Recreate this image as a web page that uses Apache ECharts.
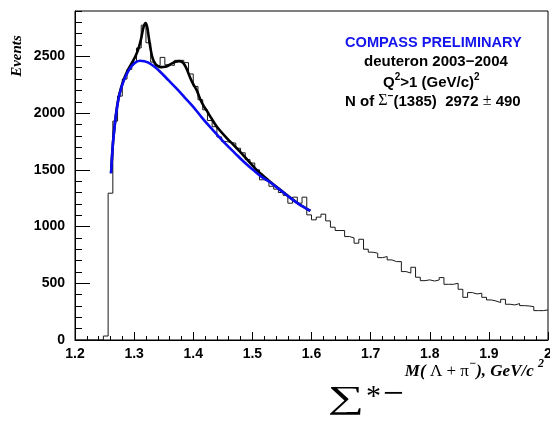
<!DOCTYPE html>
<html>
<head>
<meta charset="utf-8">
<script src="https://cdn.jsdelivr.net/npm/echarts@6/dist/echarts.min.js"></script>
<style>
  html, body { margin: 0; padding: 0; background: #fff; }
  #chart { width: 550px; height: 423px; }
</style>
</head>
<body>
<div id="chart"></div>
<script>
// Λπ invariant-mass histogram: 100 bins of 0.008 GeV/c² from 1.2 to 2.0
const binLow = 1.2;
const binWidth = 0.008;
const histCounts = [
  0, 0, 0, 0, 0, 0, 35, 1294, 1930, 2150,
  2300, 2385, 2445, 2574, 2775, 2620, 2450, 2420, 2491, 2426,
  2420, 2465, 2465, 2445, 2345, 2235, 2118, 2029, 1935, 1880,
  1790, 1750, 1740, 1735, 1690, 1650, 1590, 1560, 1500, 1412,
  1397, 1355, 1330, 1300, 1275, 1206, 1259, 1206, 1259, 1103,
  1059, 1083, 1109, 1050, 994, 965, 965, 912, 900, 853,
  888, 800, 774, 765, 726, 735, 706, 691, 691, 603,
  590, 641, 553, 523, 530, 520, 529, 550, 491, 491,
  500, 447, 376, 418, 406, 412, 376, 353, 344, 330,
  359, 315, 309, 321, 303, 300, 294, 259, 259, 265
];

// Background-only fit (blue)
const bgFitMass = [
  1.261, 1.264, 1.267, 1.2705, 1.275, 1.282, 1.289, 1.296, 1.303, 1.310,
  1.317, 1.324, 1.334, 1.344, 1.358, 1.372, 1.386, 1.400, 1.414, 1.428,
  1.442, 1.456, 1.470, 1.485, 1.500, 1.515, 1.530, 1.545, 1.561, 1.578, 1.598
];
const bgFitCounts = [
  1470, 1720, 1880, 2030, 2160, 2280, 2360, 2415, 2450, 2462,
  2458, 2445, 2410, 2365, 2290, 2215, 2135, 2055, 1965, 1880,
  1800, 1722, 1650, 1573, 1505, 1440, 1390, 1330, 1265, 1200, 1138
];

// Signal + background fit (black)
const totalFitMass = [
  1.261, 1.264, 1.267, 1.2705, 1.275, 1.282, 1.289, 1.296, 1.303, 1.308,
  1.312, 1.316, 1.3195, 1.322, 1.325, 1.328, 1.331, 1.335, 1.340, 1.346,
  1.352, 1.358, 1.364, 1.370, 1.376, 1.381, 1.386, 1.390, 1.395, 1.400,
  1.406, 1.412, 1.418, 1.423, 1.430, 1.440, 1.4566, 1.468, 1.479, 1.493,
  1.507, 1.520, 1.530, 1.545, 1.561, 1.578, 1.598
];
const totalFitCounts = [
  1470, 1725, 1885, 2035, 2165, 2290, 2375, 2440, 2510, 2580,
  2660, 2760, 2794, 2760, 2660, 2560, 2490, 2440, 2415, 2405,
  2408, 2420, 2438, 2452, 2458, 2450, 2420, 2375, 2310, 2255,
  2200, 2120, 2060, 2020, 1960, 1880, 1780, 1720, 1660, 1580,
  1500, 1440, 1395, 1333, 1267, 1201, 1139
];

const yMajorTicks = [0, 500, 1000, 1500, 2000, 2500];
const yMinorTicks = [100, 200, 300, 400, 600, 700, 800, 900, 1100, 1200, 1300, 1400,
  1600, 1700, 1800, 1900, 2100, 2200, 2300, 2400, 2600, 2700, 2800, 2900];

// Step outline: one point per bin low edge, plus the closing upper edge
const histPoints = histCounts.map((c, k) => [+(binLow + k * binWidth).toFixed(3), c]);
histPoints.push([+(binLow + histCounts.length * binWidth).toFixed(3), histCounts[histCounts.length - 1]]);

const zip = (xs, ys) => xs.map((x, i) => [x, ys[i]]);

const labelFont = { fontFamily: 'Liberation Sans', fontWeight: 'bold', fontSize: 14, color: '#000' };
const axisBlack = { color: '#000', width: 1 };

const chart = echarts.init(document.getElementById('chart'), null, { renderer: 'canvas' });
chart.setOption({
  animation: false,
  backgroundColor: '#fff',
  grid: {
    left: 75, right: 2, top: 11, bottom: 83,
    containLabel: false, outerBoundsMode: 'none',
    show: true, borderColor: '#000', borderWidth: 1, backgroundColor: 'transparent'
  },
  xAxis: {
    type: 'value', min: 1.2, max: 2.0, interval: 0.1,
    axisLine: { show: true, lineStyle: axisBlack },
    axisTick: { show: true, inside: true, length: 8, lineStyle: axisBlack },
    minorTick: { show: true, splitNumber: 5, length: 4, lineStyle: axisBlack },
    splitLine: { show: false },
    axisLabel: Object.assign({ margin: 7, formatter: v => String(Math.round(v * 10) / 10) }, labelFont)
  },
  yAxis: [
    {
      type: 'value', min: 0, max: 2900, interval: 500, position: 'left',
      axisLine: { show: true, lineStyle: axisBlack },
      axisTick: { show: true, inside: true, length: 15, lineStyle: axisBlack, customValues: yMajorTicks },
      splitLine: { show: false },
      axisLabel: Object.assign({ margin: 10, customValues: yMajorTicks, formatter: v => String(v) }, labelFont)
    },
    {
      type: 'value', min: 0, max: 2900, interval: 500, position: 'left',
      axisLine: { show: false },
      axisTick: { show: true, inside: true, length: 7, lineStyle: axisBlack, customValues: yMinorTicks },
      splitLine: { show: false },
      axisLabel: { show: false }
    }
  ],
  series: [
    {
      name: 'data', type: 'line', step: 'end', data: histPoints,
      symbol: 'none', lineStyle: { color: '#1a1a1a', width: 1 }, z: 2
    },
    {
      name: 'signal + background', type: 'line', data: zip(totalFitMass, totalFitCounts),
      symbol: 'none', smooth: 0.35, lineStyle: { color: '#000', width: 2.6 }, z: 3
    },
    {
      name: 'background', type: 'line', data: zip(bgFitMass, bgFitCounts),
      symbol: 'none', smooth: 0.35, lineStyle: { color: '#0c0cf2', width: 2.6 }, z: 4
    }
  ],
  graphic: [
    {
      type: 'text', x: 17, y: 56, rotation: Math.PI / 2,
      style: { text: 'Events', font: 'italic bold 15px "Liberation Serif"', fill: '#000',
               textAlign: 'center', textVerticalAlign: 'middle' }
    },
    {
      type: 'text', x: 544, y: 369,
      style: {
        text: '{m|M(}{g| Λ + π}{s|−}{m|), GeV/c }{s|2}',
        textAlign: 'right', textVerticalAlign: 'middle',
        rich: {
          m: { font: 'italic bold 17px "Liberation Serif"', fill: '#000', lineHeight: 22, verticalAlign: 'bottom' },
          g: { font: '17px "Liberation Serif"', fill: '#000', lineHeight: 22, verticalAlign: 'bottom' },
          s: { font: 'italic bold 12px "Liberation Serif"', fill: '#000', lineHeight: 22, verticalAlign: 'top' }
        }
      }
    },
    // Particle name below the axis: Σ*−
    {
      type: 'text', x: 328, y: 400, scaleX: 1.6,
      style: { text: '∑', font: '32px "Liberation Serif"', fill: '#000',
               textAlign: 'left', textVerticalAlign: 'middle' }
    },
    {
      type: 'text', x: 366, y: 397,
      style: { text: '*', font: '30px "Liberation Serif"', fill: '#000',
               textAlign: 'left', textVerticalAlign: 'middle' }
    },
    {
      type: 'text', x: 383, y: 395,
      style: { text: '−', font: '37px "Liberation Serif"', fill: '#000',
               textAlign: 'left', textVerticalAlign: 'middle' }
    },
    {
      type: 'text', x: 345, y: 43,
      style: { text: 'COMPASS PRELIMINARY', font: 'bold 14.6px "Liberation Sans"', fill: '#1414ee',
               textAlign: 'left', textVerticalAlign: 'middle' }
    },
    {
      type: 'text', x: 364, y: 62,
      style: { text: 'deuteron 2003−2004', font: 'bold 15px "Liberation Sans"', fill: '#000',
               textAlign: 'left', textVerticalAlign: 'middle' }
    },
    {
      type: 'text', x: 383, y: 81,
      style: {
        text: '{t|Q}{s|2}{t|>1 (GeV/c)}{s|2}',
        textAlign: 'left', textVerticalAlign: 'middle',
        rich: {
          t: { font: 'bold 15px "Liberation Sans"', fill: '#000', lineHeight: 18, verticalAlign: 'bottom' },
          s: { font: 'bold 10px "Liberation Sans"', fill: '#000', lineHeight: 18, verticalAlign: 'top' }
        }
      }
    },
    {
      type: 'text', x: 345, y: 100,
      style: {
        text: '{t|N of }{g|Σ}{s|−}{t|(1385)  2972 }{g|±}{t| 490}',
        textAlign: 'left', textVerticalAlign: 'middle',
        rich: {
          t: { font: 'bold 15px "Liberation Sans"', fill: '#000', lineHeight: 18, verticalAlign: 'bottom' },
          g: { font: '16px "Liberation Serif"', fill: '#000', lineHeight: 18, verticalAlign: 'bottom' },
          s: { font: 'bold 10px "Liberation Sans"', fill: '#000', lineHeight: 18, verticalAlign: 'top' }
        }
      }
    }
  ]
});
</script>
</body>
</html>
